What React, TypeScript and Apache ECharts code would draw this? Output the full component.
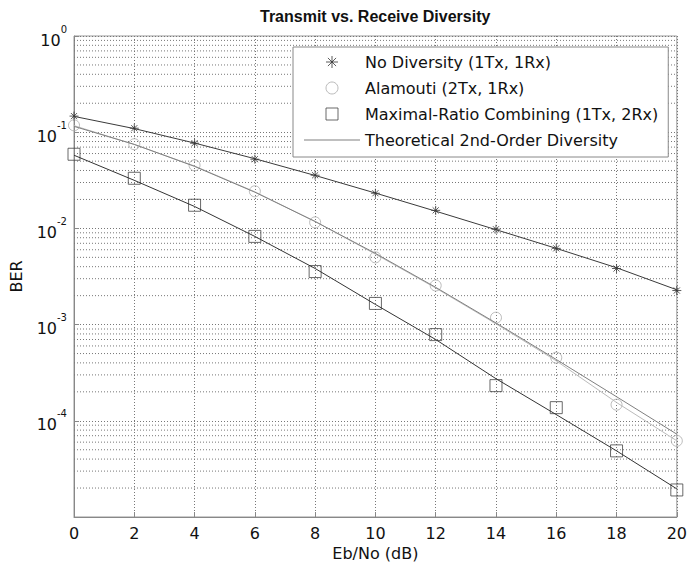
import React, { useEffect, useRef } from 'react';
import * as echarts from 'echarts';

const ebNo = [0, 2, 4, 6, 8, 10, 12, 14, 16, 18, 20];
const berNoDiversity = [0.147, 0.11, 0.0768, 0.0524, 0.0357, 0.0232, 0.0154, 0.0098, 0.0062, 0.00383, 0.00226];
const berAlamouti = [0.118, 0.075, 0.0453, 0.0243, 0.01155, 0.005, 0.00255, 0.00118, 0.000453, 0.000147, 0.0000619];
const berMRC = [0.059, 0.0332, 0.0174, 0.00826, 0.00356, 0.00166, 0.000787, 0.000232, 0.000137, 0.0000487, 0.0000191];
const fitNoDiversity = [0.146, 0.109, 0.0771, 0.053, 0.0355, 0.0233, 0.0151, 0.0097, 0.0062, 0.0039, 0.0023];
const fitAlamouti = [0.117, 0.0745, 0.0445, 0.024, 0.0118, 0.0054, 0.0024, 0.00102, 0.00042, 0.000155, 0.000062];
const fitMRC = [0.0576, 0.0316, 0.0169, 0.00825, 0.00383, 0.00162, 0.0007, 0.000274, 0.000116, 0.0000487, 0.0000196];
const theory2ndOrder = [0.115, 0.0747, 0.0441, 0.0238, 0.0118, 0.0055, 0.00244, 0.00104, 0.000434, 0.000178, 0.0000726];
const minorGridValues = [
  2e-5, 3e-5, 4e-5, 5e-5, 6e-5, 7e-5, 8e-5, 9e-5,
  2e-4, 3e-4, 4e-4, 5e-4, 6e-4, 7e-4, 8e-4, 9e-4,
  2e-3, 3e-3, 4e-3, 5e-3, 6e-3, 7e-3, 8e-3, 9e-3,
  2e-2, 3e-2, 4e-2, 5e-2, 6e-2, 7e-2, 8e-2, 9e-2,
  0.2, 0.3, 0.4, 0.5, 0.6, 0.7, 0.8, 0.9,
];
const legendNames = [
  'No Diversity (1Tx, 1Rx)',
  'Alamouti (2Tx, 1Rx)',
  'Maximal-Ratio Combining (1Tx, 2Rx)',
  'Theoretical 2nd-Order Diversity',
];

const pairs = (ys: number[]) => ebNo.map((x, i) => [x, ys[i]]);
const FONT = 'DejaVu Sans';
const ASTERISK = 'path://M5,0L5,10M0,5L10,5M1.6,1.6L8.4,8.4M1.6,8.4L8.4,1.6';
const SQUARE = 'path://M0,0L10,0L10,10L0,10Z';
const THIN_LINE = 'path://M0,0L56,0L56,1L0,1Z';
const gridDots = { type: [1, 2] as any, color: '#777', width: 1 };

export default function App() {
  const ref = useRef<HTMLDivElement>(null);
  useEffect(() => {
    const chart = echarts.init(ref.current!, null, { renderer: 'svg' });
    const minorSeries = minorGridValues.map((v, i) => ({
      name: 'minor-grid-' + i,
      type: 'line',
      data: [[ebNo[0], v], [ebNo[ebNo.length - 1], v]],
      symbol: 'none',
      silent: true,
      z: 0,
      lineStyle: gridDots,
    }));
    chart.setOption({
      animation: false,
      backgroundColor: '#fff',
      title: {
        text: 'Transmit vs. Receive Diversity',
        left: 255,
        top: 3,
        textStyle: { fontFamily: 'Liberation Sans', fontSize: 16, fontWeight: 'bold', color: '#111' },
      },
      legend: {
        data: [
          { name: legendNames[0] },
          { name: legendNames[1] },
          { name: legendNames[2] },
          { name: legendNames[3], icon: THIN_LINE, itemStyle: { color: '#808080', borderWidth: 0 } },
        ],
        orient: 'vertical',
        left: 293,
        top: 47,
        padding: [6, 10, 8, 11],
        itemGap: 8,
        itemWidth: 56,
        itemHeight: 12,
        backgroundColor: '#fff',
        borderColor: '#888',
        borderWidth: 1,
        borderRadius: 0,
        itemStyle: { borderWidth: 1 },
        textStyle: { fontFamily: FONT, fontSize: 16, color: '#111', lineHeight: 18 },
      },
      grid: { left: 72, right: 10, top: 36, bottom: 51, show: true, borderColor: '#999', borderWidth: 1 },
      xAxis: {
        type: 'value',
        min: 0,
        max: 20,
        interval: 2,
        name: 'Eb/No (dB)',
        nameLocation: 'middle',
        nameGap: 27,
        nameTextStyle: { fontFamily: FONT, fontSize: 16, color: '#111' },
        axisLine: { show: true, lineStyle: { color: '#888' } },
        axisTick: { show: true, inside: true, length: 5, lineStyle: { color: '#888' } },
        axisLabel: { fontFamily: FONT, fontSize: 16, color: '#111', margin: 8 },
        splitLine: { show: true, lineStyle: gridDots },
      },
      yAxis: {
        type: 'log',
        logBase: 10,
        min: 1e-5,
        max: 1,
        name: 'BER',
        nameLocation: 'middle',
        nameGap: 50,
        nameTextStyle: { fontFamily: FONT, fontSize: 16, color: '#111' },
        axisLine: { show: true, lineStyle: { color: '#888' } },
        axisTick: { show: true, inside: true, length: 5, lineStyle: { color: '#888' } },
        axisLabel: {
          margin: 7,
          formatter: (v: number) => {
            const e = Math.round(Math.log10(v));
            if (e <= -5) return '';
            return '{b|10}{sup|' + e + '}';
          },
          rich: {
            b: { fontFamily: FONT, fontSize: 16, color: '#111', lineHeight: 24, verticalAlign: 'bottom' },
            sup: { fontFamily: FONT, fontSize: 10, color: '#111', lineHeight: 10, verticalAlign: 'top' },
          },
        },
        splitLine: { show: true, lineStyle: gridDots },
      },
      series: [
        ...minorSeries,
        {
          name: 'fit-nodiv',
          type: 'line',
          data: pairs(fitNoDiversity),
          symbol: 'none',
          lineStyle: { color: '#3a3a3a', width: 1 },
        },
        {
          name: 'fit-alamouti',
          type: 'line',
          data: pairs(fitAlamouti),
          symbol: 'none',
          lineStyle: { color: '#bbb', width: 1 },
        },
        {
          name: 'fit-mrc',
          type: 'line',
          data: pairs(fitMRC),
          symbol: 'none',
          lineStyle: { color: '#333', width: 1 },
        },
        {
          name: legendNames[3],
          type: 'line',
          data: pairs(theory2ndOrder),
          symbol: 'none',
          color: '#808080',
          lineStyle: { color: '#808080', width: 1 },
        },
        {
          name: legendNames[0],
          type: 'scatter',
          data: pairs(berNoDiversity),
          symbol: ASTERISK,
          symbolSize: 9,
          itemStyle: { color: 'transparent', borderColor: '#333', borderWidth: 1 },
        },
        {
          name: legendNames[1],
          type: 'scatter',
          data: pairs(berAlamouti),
          symbol: 'circle',
          symbolSize: 11,
          itemStyle: { color: 'transparent', borderColor: '#aaa', borderWidth: 1 },
        },
        {
          name: legendNames[2],
          type: 'scatter',
          data: pairs(berMRC),
          symbol: SQUARE,
          symbolSize: 12,
          itemStyle: { color: 'transparent', borderColor: '#444', borderWidth: 1 },
        },
      ],
    });
    return () => chart.dispose();
  }, []);
  return (
    <div
      ref={ref}
      style={{ position: 'fixed', left: 0, top: 0, width: 690, height: 568, background: '#fff' }}
    />
  );
}
